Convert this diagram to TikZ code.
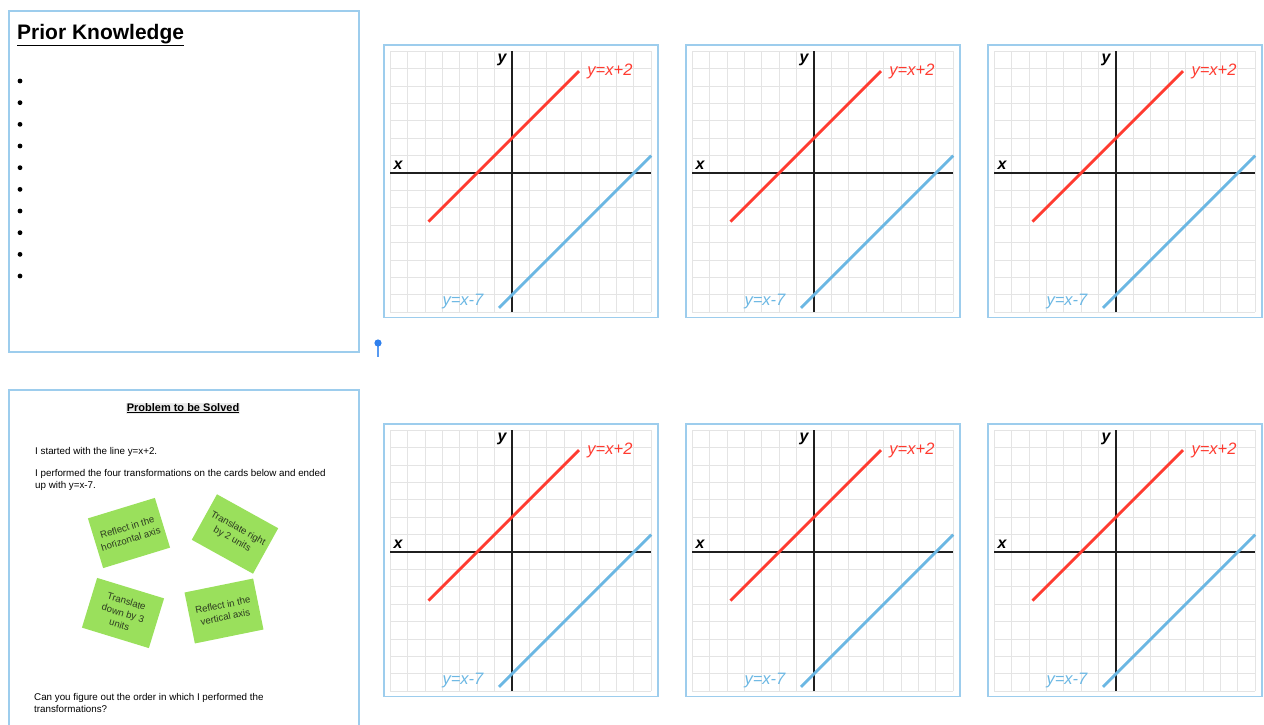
\documentclass[tikz,border=0pt]{standalone}
\usepackage{fontspec}
\setmainfont{Liberation Sans}
\definecolor{framebl}{HTML}{9DCDED}
\definecolor{gridgr}{HTML}{E4E4E4}
\definecolor{redln}{HTML}{FF3B30}
\definecolor{blueln}{HTML}{6BB7E3}
\definecolor{cardgr}{HTML}{9AE05C}
\definecolor{cardtx}{HTML}{2C3A20}
\definecolor{pinbl}{HTML}{2F80ED}

\begin{document}
\begin{tikzpicture}[
  x=1pt, y=-1pt,
  panel/.style={draw=framebl, line width=1.8pt},
  grid_line/.style={draw=gridgr, line width=0.8pt},
  axis_line/.style={draw=black!88, line width=2.9pt},
  axis_label/.style={inner sep=0pt, font=\fontsize{16}{16}\selectfont\bfseries\itshape},
  red_label/.style={inner sep=0pt, text=redln, font=\fontsize{16.5}{16.5}\selectfont\itshape},
  blue_label/.style={inner sep=0pt, text=blueln, font=\fontsize{16.5}{16.5}\selectfont\itshape},
  body_text/.style={inner sep=0pt, align=left, font=\fontsize{9.8}{12}\selectfont},
  card/.style={rectangle, fill=cardgr, minimum width=70pt, minimum height=52pt, inner sep=1pt,
    align=center, text=cardtx, font=\fontsize{9.6}{12.2}\selectfont},
]
\useasboundingbox (0,0) rectangle (1264,725);

% left panels
\draw[panel] (9,11) rectangle (359,352);
\draw[panel] (9,725) |- (359,390) -- (359,725);

\draw (17,39.5) node (pk) [inner sep=0pt, anchor=base west, font=\fontsize{21}{21}\selectfont\bfseries] {\underline{Prior Knowledge}};
\foreach \k in {0,...,9}
  \fill (20,81+21.67*\k) circle (2.4);

\draw (183,411) node (prob) [fill=black!8, inner sep=0.5pt, anchor=base, font=\fontsize{11}{11}\selectfont\bfseries] {\underline{Problem to be Solved}};
\draw (35,452) node (start) [body_text, anchor=west] {I started with the line y=x+2.};
\draw (35,480) node (perf) [body_text, anchor=west] {I performed the four transformations on the cards below and ended\\up with y=x-7.};
\draw (34,703) node (ask) [body_text, anchor=west] {Can you figure out the order in which I performed the\\transformations?};

% cards
\draw (129,533) node (reflh) [card, rotate=17] {Reflect in the\\horizontal axis};
\draw (235,534) node (transr) [card, rotate=-29] {Translate right\\by 2 units};
\draw (123,613) node (transd) [card, rotate=-17] {Translate\\down by 3\\units};
\draw (224,611) node (reflv) [card, rotate=11.5] {Reflect in the\\vertical axis};

% pin
\draw[pinbl!80, line width=1.5pt] (378,343) -- (378,357);
\fill[pinbl] (378,343) circle (3.6);

% graphs
\foreach \gx/\gy [count=\i] in {512/173, 814/173, 1116/173, 512/552, 814/552, 1116/552} {
  \begin{scope}[shift={(\gx,\gy)}, x=17.4pt, y=17.4pt]
    \draw[grid_line] (-7,-8) grid[step=1] (8,7);
    \draw[panel] (-7.35,-8.3) rectangle (8.4,7.35);
    \draw[axis_line] (-7,0) -- (8,0);
    \draw[axis_line] (0,-8) -- (0,7);
    \draw[redln, line width=2.8pt] (-4.8,-2.8) -- (3.85,5.85);
    \draw[blueln, line width=2.8pt] (-0.75,-7.75) -- (8,1);
    \draw (-0.57,6.5) node (ylab\i) [axis_label] {y};
    \draw (-6.55,0.46) node (xlab\i) [axis_label] {x};
    \draw (5.63,5.86) node (rlab\i) [red_label] {y=x+2};
    \draw (-2.82,-7.41) node (blab\i) [blue_label] {y=x-7};
  \end{scope}
}
\end{tikzpicture}
\end{document}
